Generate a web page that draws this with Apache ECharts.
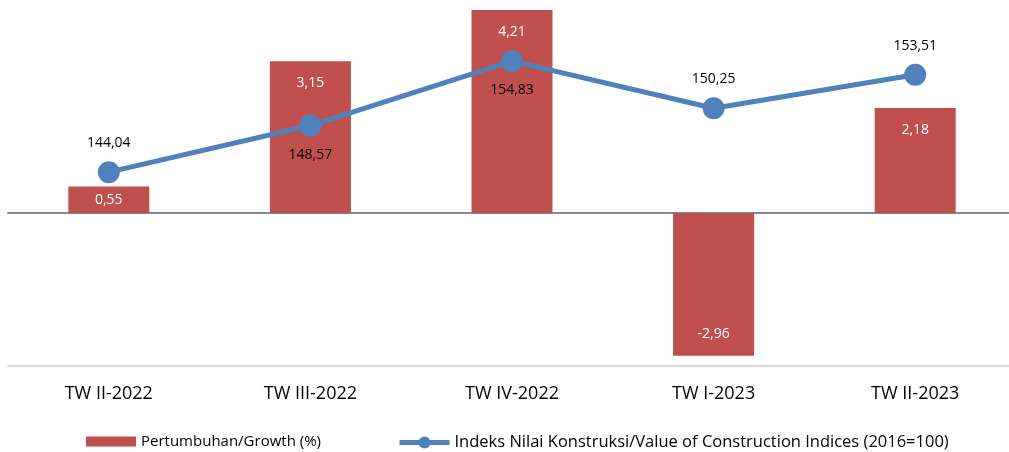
<!DOCTYPE html>
<html>
<head>
<meta charset="utf-8">
<script src="https://cdn.jsdelivr.net/npm/echarts@6/dist/echarts.min.js"></script>
<style>
  html, body { margin: 0; padding: 0; background: #fff; }
  #chart { width: 1009px; height: 452px; }
</style>
</head>
<body>
<div id="chart"></div>
<script>
// data
var categories = ['TW II-2022', 'TW III-2022', 'TW IV-2022', 'TW I-2023', 'TW II-2023'];
var growth = [0.55, 3.15, 4.21, -2.96, 2.18];
var indices = [144.04, 148.57, 154.83, 150.25, 153.51];
var indexLabelPos = ['top', 'bottom', 'bottom', 'top', 'top'];

var barName = 'Pertumbuhan/Growth (%)';
var lineName = 'Indeks Nilai Konstruksi/Value of Construction Indices (2016=100)';

var fmt = function (v) { return v.toFixed(2).replace('.', ','); };

var mychart = echarts.init(document.getElementById('chart'));

var barData = growth.map(function (v) {
    var item = { value: v };
    if (v > 0 && v < 1) item.label = { position: 'inside' };   // short bar: centre it
    if (v < 0) item.label = { position: 'insideBottom' };
    return item;
});
var lineData = indices.map(function (v, i) {
    return { value: v, label: { position: indexLabelPos[i] } };
});

var option = {
    animation: false,
    textStyle: { fontFamily: '"Open Sans", sans-serif' },
    grid: { left: 8, width: 1008, top: 10, bottom: 86, outerBoundsMode: 'none' },
    legend: [{
        top: 429,
        left: 81,
        itemWidth: 50,
        itemHeight: 10,
        textStyle: { fontSize: 15, color: '#000' },
        data: [{ name: barName, icon: 'rect' }]
    }, {
        top: 429,
        left: 392,
        itemWidth: 50,
        itemHeight: 15,
        lineStyle: { width: 5 },
        textStyle: { fontSize: 16.5, color: '#000' },
        data: [{ name: lineName }]
    }],
    xAxis: [{
        type: 'category',
        data: categories,
        axisLine: { show: true, onZero: true, lineStyle: { color: '#888', width: 2 } },
        axisTick: { show: false },
        axisLabel: { show: false },
        splitLine: { show: false }
    }, {
        type: 'category',
        data: categories,
        position: 'bottom',
        axisLine: { show: true, onZero: false, lineStyle: { color: '#d9d9d9', width: 2 } },
        axisTick: { show: false },
        axisLabel: { color: '#000', fontSize: 18, margin: 19 }
    }],
    yAxis: [{
        type: 'value',
        min: -3.17,
        max: 4.21,
        show: false,
        splitLine: { show: false }
    }, {
        type: 'value',
        min: 125.2,
        max: 159.8,
        show: false,
        splitLine: { show: false }
    }],
    series: [{
        name: barName,
        type: 'bar',
        xAxisIndex: 0,
        yAxisIndex: 0,
        barWidth: 81,
        itemStyle: { color: '#C0504D' },
        label: {
            show: true,
            position: 'insideTop',
            distance: 15,
            color: '#fff',
            fontSize: 14,
            formatter: function (p) { return fmt(p.value); }
        },
        data: barData
    }, {
        name: lineName,
        type: 'line',
        xAxisIndex: 0,
        yAxisIndex: 1,
        symbol: 'circle',
        symbolSize: 22,
        lineStyle: { color: '#4F81BD', width: 5 },
        itemStyle: { color: '#4F81BD' },
        label: {
            show: true,
            distance: 11,
            color: '#000',
            fontSize: 14,
            formatter: function (p) { return fmt(p.value); }
        },
        data: lineData
    }]
};

mychart.setOption(option);
</script>
</body>
</html>
